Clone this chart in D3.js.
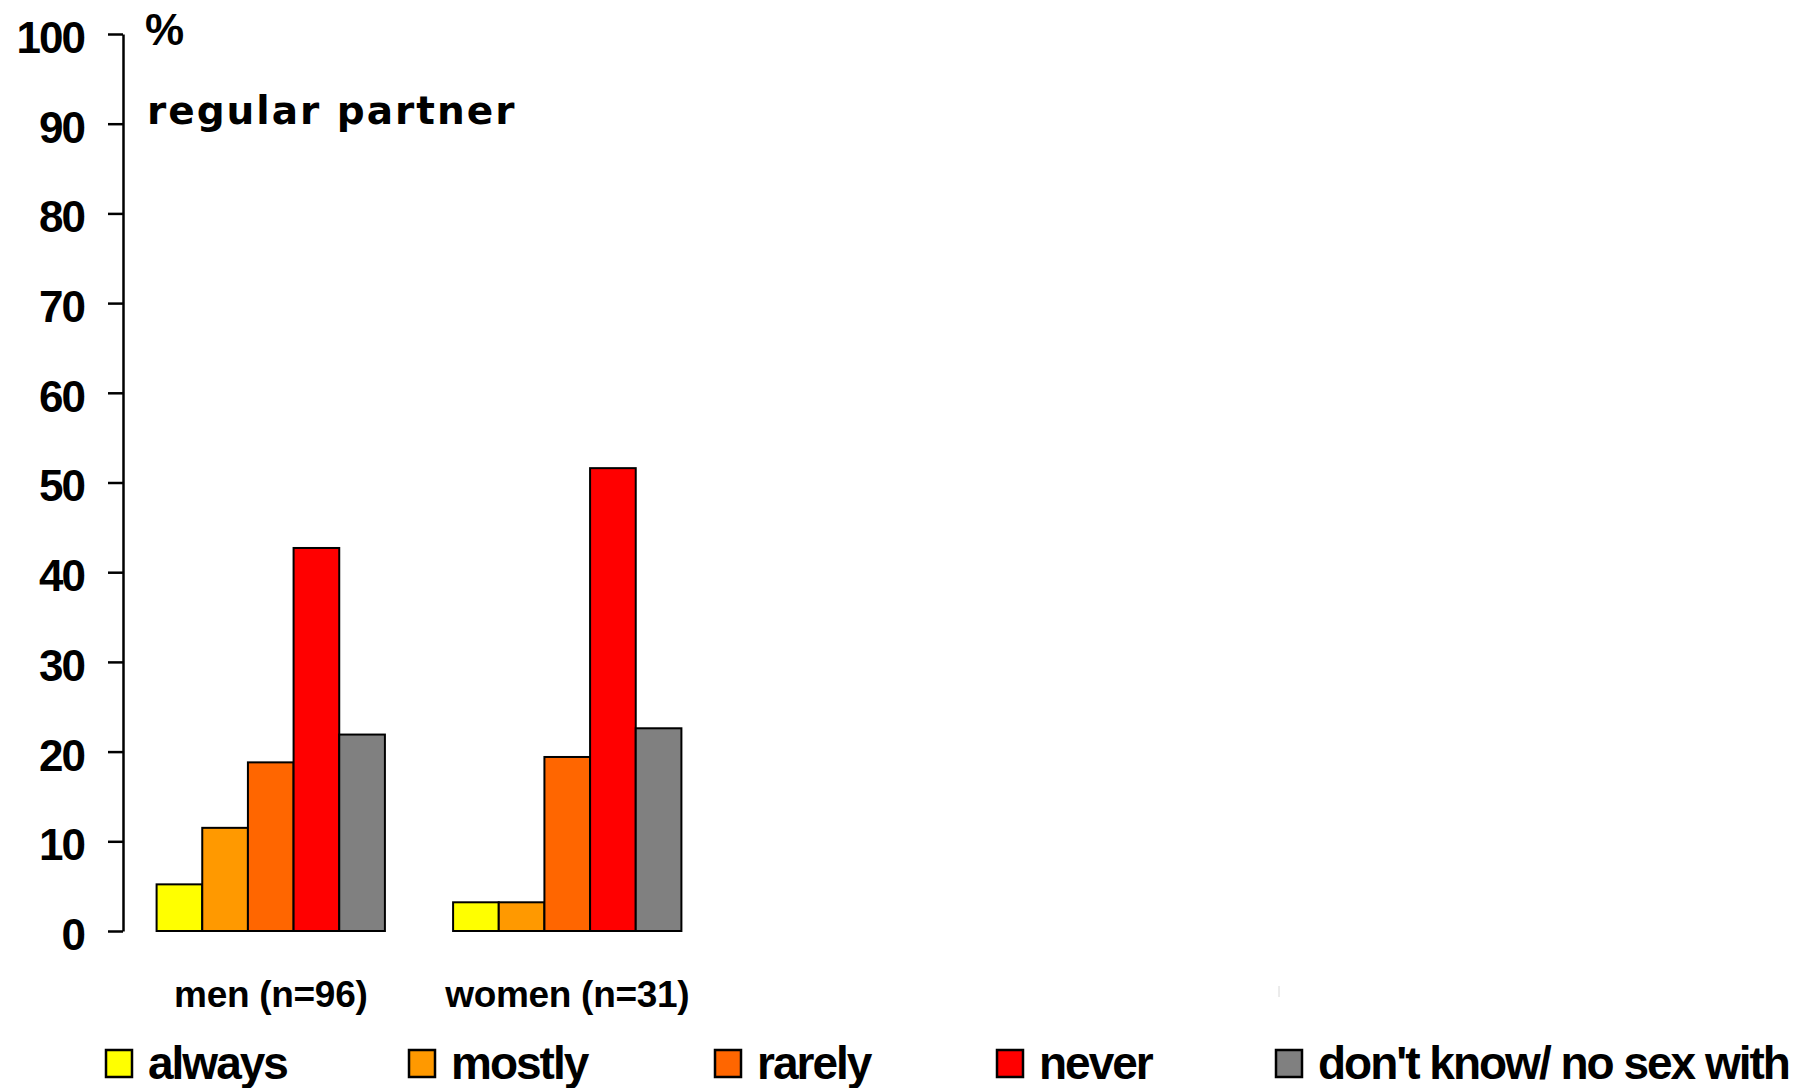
<!DOCTYPE html>
<html>
<head>
<meta charset="utf-8">
<script src="https://cdn.jsdelivr.net/npm/d3@7"></script>
<style>
    body { margin: 0; background: #fff; }
    svg text { font-family: "Liberation Sans", Arial, sans-serif; font-weight: bold; fill: #000; }
</style>
</head>
<body>
<div id="chart"></div>
<script>
    const groups = ["men (n=96)", "women (n=31)"];
    const answers = ["always", "mostly", "rarely", "never", "don't know/ no sex with"];
    const colors = ["#ffff00", "#ff9900", "#ff6600", "#ff0000", "#808080"];
    const men = [5.2, 11.5, 18.8, 42.7, 21.9];
    const women = [3.2, 3.2, 19.4, 51.6, 22.6];
    const yTicks = [0, 10, 20, 30, 40, 50, 60, 70, 80, 90, 100];

    const width = 1803;
    const height = 1088;
    const axisX = 123;
    const legendX = [106, 409, 715, 997, 1276];

    const svg = d3.select("#chart")
        .append("svg")
        .attr("width", width)
        .attr("height", height);

    const y = d3.scaleLinear().domain([0, 100]).range([931, 34]);

    const x = d3.scaleBand()
        .domain(groups)
        .range([122.5, 715.5])
        .paddingInner(0.23)
        .paddingOuter(0.115);

    const xInner = d3.scaleBand()
        .domain(answers)
        .range([0, x.bandwidth()]);

    const series = [men, women];

    // bars
    const g = svg.selectAll(".group")
        .data(groups)
        .join("g")
        .attr("class", "group")
        .attr("transform", d => `translate(${x(d)},0)`);

    g.selectAll("rect")
        .data((d, i) => series[i].map((v, j) => ({answer: answers[j], value: v, color: colors[j]})))
        .join("rect")
        .attr("x", d => xInner(d.answer))
        .attr("width", xInner.bandwidth())
        .attr("y", d => y(d.value))
        .attr("height", d => y(0) - y(d.value))
        .attr("fill", d => d.color)
        .attr("stroke", "#000")
        .attr("stroke-width", 2);

    // y axis
    const yAxis = svg.append("g")
        .attr("transform", `translate(${axisX},0)`)
        .call(d3.axisLeft(y).tickValues(yTicks).tickSize(15).tickPadding(24).tickSizeOuter(0));

    yAxis.select(".domain").attr("stroke", "#000").attr("stroke-width", 2.5);
    yAxis.selectAll(".tick line").attr("stroke", "#000").attr("stroke-width", 2.5);
    yAxis.selectAll(".tick text")
        .attr("font-size", 44)
        .attr("letter-spacing", -2)
        .attr("dy", "0.42em")
        .style("font-family", "'Liberation Sans', Arial, sans-serif")
        .style("font-weight", "bold");

    svg.append("text")
        .attr("x", 145)
        .attr("y", 45)
        .attr("font-size", 44)
        .text("%");

    svg.append("text")
        .attr("x", 147)
        .attr("y", 124)
        .attr("font-size", 39)
        .attr("letter-spacing", 2)
        .style("font-family", "'DejaVu Sans', Verdana, sans-serif")
        .text("regular partner");

    // group labels
    svg.selectAll(".glabel")
        .data(groups)
        .join("text")
        .attr("class", "glabel")
        .attr("x", d => x(d) + x.bandwidth() / 2)
        .attr("y", 1007)
        .attr("text-anchor", "middle")
        .attr("font-size", 37)
        .attr("letter-spacing", -0.3)
        .text(d => d);

    // faint stray mark left in the original image
    svg.append("line")
        .attr("x1", 1279).attr("x2", 1279)
        .attr("y1", 986).attr("y2", 997)
        .attr("stroke", "#d8d8d8")
        .attr("stroke-width", 1);

    // legend
    const legend = svg.selectAll(".legend")
        .data(answers)
        .join("g")
        .attr("class", "legend")
        .attr("transform", (d, i) => `translate(${legendX[i]},1050)`);

    legend.append("rect")
        .attr("width", 26)
        .attr("height", 27)
        .attr("fill", (d, i) => colors[i])
        .attr("stroke", "#000")
        .attr("stroke-width", 2.5);

    legend.append("text")
        .attr("x", 42)
        .attr("y", 29)
        .attr("font-size", 46)
        .attr("letter-spacing", -2)
        .text(d => d);
</script>
</body>
</html>
